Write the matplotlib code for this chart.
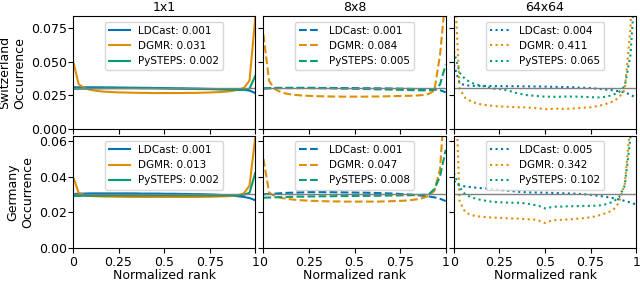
import numpy as np
import matplotlib.pyplot as plt

# rank histogram bins (33 bins -> 32 ensemble members)
n_bins = 33
ranks = np.linspace(0, 1, n_bins)

scales = ['1x1', '8x8', '64x64']
regions = ['Switzerland', 'Germany']
models = ['LDCast', 'DGMR', 'PySTEPS']

# ---- Switzerland ----
ch_ldcast_1 = [0.031, 0.031, 0.031, 0.031, 0.031, 0.031, 0.0309, 0.0309, 0.0308, 0.0308, 0.0307,
               0.0307, 0.0306, 0.0306, 0.0305, 0.0305, 0.0304, 0.0303, 0.0302, 0.0302, 0.0301, 0.0300,
               0.0300, 0.0299, 0.0298, 0.0297, 0.0296, 0.0295, 0.0294, 0.0293, 0.0291, 0.0285, 0.0267]
ch_dgmr_1 = [0.051, 0.0334, 0.0304, 0.0292, 0.0284, 0.0279, 0.0276, 0.0274, 0.0272, 0.0271, 0.0270,
             0.0269, 0.0268, 0.0268, 0.0267, 0.0267, 0.0267, 0.0267, 0.0267, 0.0267, 0.0268, 0.0268,
             0.0269, 0.0270, 0.0271, 0.0273, 0.0275, 0.0278, 0.0283, 0.0292, 0.0305, 0.036, 0.083]
ch_pysteps_1 = [0.0298, 0.0299, 0.030, 0.0301, 0.0302, 0.0302, 0.0303, 0.0303, 0.0303, 0.0303, 0.0303,
                0.0303, 0.0302, 0.0302, 0.0302, 0.0301, 0.0301, 0.0300, 0.0300, 0.0299, 0.0299, 0.0298,
                0.0297, 0.0297, 0.0296, 0.0295, 0.0294, 0.0293, 0.0292, 0.0291, 0.0290, 0.0300, 0.0395]

ch_ldcast_8 = [0.0302, 0.0304, 0.0305, 0.0306, 0.0306, 0.0306, 0.0306, 0.0306, 0.0306, 0.0306, 0.0305,
               0.0305, 0.0305, 0.0305, 0.0304, 0.0304, 0.0304, 0.0303, 0.0303, 0.0303, 0.0302, 0.0302,
               0.0301, 0.0301, 0.0300, 0.0299, 0.0298, 0.0297, 0.0296, 0.0295, 0.0293, 0.0289, 0.0272]
ch_dgmr_8 = [0.0705, 0.0358, 0.0297, 0.0275, 0.0263, 0.0256, 0.0251, 0.0248, 0.0246, 0.0244, 0.0243,
             0.0242, 0.0241, 0.0241, 0.0240, 0.0240, 0.0240, 0.0240, 0.0240, 0.0241, 0.0241, 0.0242,
             0.0243, 0.0244, 0.0245, 0.0246, 0.0247, 0.0249, 0.0252, 0.0260, 0.0284, 0.055, 0.10]
ch_pysteps_8 = [0.0300, 0.0302, 0.0303, 0.0304, 0.0304, 0.0304, 0.0304, 0.0304, 0.0304, 0.0303, 0.0303,
                0.0302, 0.0302, 0.0301, 0.0300, 0.0300, 0.0299, 0.0298, 0.0297, 0.0296, 0.0295, 0.0294,
                0.0293, 0.0292, 0.0291, 0.0290, 0.0289, 0.0288, 0.0287, 0.0287, 0.0292, 0.0330, 0.0480]

ch_ldcast_64 = [0.048, 0.034, 0.0325, 0.0322, 0.032, 0.032, 0.032, 0.0319, 0.0319, 0.0318, 0.0318,
                0.0318, 0.0317, 0.0317, 0.0316, 0.0316, 0.0315, 0.0314, 0.0313, 0.0312, 0.0311, 0.031,
                0.0308, 0.0306, 0.0304, 0.0300, 0.0296, 0.0292, 0.0287, 0.0280, 0.0272, 0.0255, 0.023]
ch_dgmr_64 = [0.12, 0.030, 0.023, 0.0205, 0.019, 0.018, 0.0175, 0.017, 0.0167, 0.0165, 0.0163,
              0.0161, 0.016, 0.0158, 0.0156, 0.0152, 0.0145, 0.0148, 0.015, 0.0148, 0.015, 0.0152,
              0.0155, 0.0158, 0.016, 0.0168, 0.0177, 0.019, 0.0205, 0.0235, 0.029, 0.075, 0.2]
ch_pysteps_64 = [0.058, 0.042, 0.037, 0.0345, 0.033, 0.032, 0.031, 0.030, 0.0297, 0.029, 0.028,
                 0.0267, 0.0258, 0.025, 0.0247, 0.0243, 0.024, 0.024, 0.0238, 0.024, 0.0241, 0.024,
                 0.024, 0.0238, 0.0236, 0.0234, 0.0235, 0.0242, 0.0255, 0.0275, 0.032, 0.055, 0.12]

# ---- Germany ----
de_ldcast_1 = [0.0302, 0.0304, 0.0305, 0.0306, 0.0306, 0.0306, 0.0306, 0.0306, 0.0306, 0.0306, 0.0306,
               0.0306, 0.0305, 0.0305, 0.0305, 0.0305, 0.0304, 0.0304, 0.0304, 0.0303, 0.0303, 0.0302,
               0.0302, 0.0301, 0.0300, 0.0299, 0.0297, 0.0295, 0.0293, 0.0290, 0.0286, 0.0280, 0.0268]
de_dgmr_1 = [0.040, 0.031, 0.0296, 0.0292, 0.029, 0.0289, 0.0288, 0.0288, 0.0287, 0.0287, 0.0286,
             0.0286, 0.0286, 0.0286, 0.0286, 0.0286, 0.0286, 0.0286, 0.0286, 0.0286, 0.0286, 0.0286,
             0.0286, 0.0287, 0.0287, 0.0288, 0.0289, 0.029, 0.0292, 0.0296, 0.0306, 0.035, 0.062]
de_pysteps_1 = [0.0292, 0.0292, 0.0293, 0.0293, 0.0294, 0.0294, 0.0294, 0.0295, 0.0295, 0.0295, 0.0295,
                0.0295, 0.0295, 0.0295, 0.0295, 0.0295, 0.0295, 0.0295, 0.0295, 0.0295, 0.0295, 0.0295,
                0.0295, 0.0295, 0.0295, 0.0295, 0.0295, 0.0295, 0.0295, 0.0296, 0.0298, 0.031, 0.042]

de_ldcast_8 = [0.0301, 0.0303, 0.0305, 0.0307, 0.0309, 0.031, 0.0311, 0.0312, 0.0313, 0.0313, 0.0313,
               0.0313, 0.0313, 0.0312, 0.0312, 0.0311, 0.0311, 0.031, 0.031, 0.0309, 0.0308, 0.0307,
               0.0306, 0.0305, 0.0303, 0.0301, 0.0299, 0.0296, 0.0293, 0.0289, 0.0284, 0.0276, 0.0263]
de_dgmr_8 = [0.050, 0.031, 0.0291, 0.0282, 0.0276, 0.0272, 0.0269, 0.0267, 0.0265, 0.0264, 0.0263,
             0.0262, 0.0261, 0.0261, 0.026, 0.026, 0.026, 0.026, 0.026, 0.026, 0.026, 0.0261,
             0.0262, 0.0263, 0.0264, 0.0266, 0.0269, 0.0273, 0.028, 0.0292, 0.032, 0.044, 0.09]
de_pysteps_8 = [0.0282, 0.0283, 0.0284, 0.0285, 0.0286, 0.0287, 0.0288, 0.0288, 0.0289, 0.0289, 0.029,
                0.029, 0.029, 0.0291, 0.0291, 0.0291, 0.0292, 0.0292, 0.0292, 0.0293, 0.0293, 0.0293,
                0.0294, 0.0294, 0.0295, 0.0295, 0.0296, 0.0297, 0.0298, 0.030, 0.033, 0.040, 0.055]

de_ldcast_64 = [0.0376, 0.035, 0.0345, 0.0341, 0.0338, 0.0335, 0.0333, 0.033, 0.0326, 0.0323, 0.032,
                0.0316, 0.0314, 0.0312, 0.0311, 0.0311, 0.031, 0.0309, 0.0308, 0.0307, 0.0306, 0.0305,
                0.0303, 0.0301, 0.0298, 0.0294, 0.029, 0.0285, 0.0279, 0.0272, 0.0264, 0.0255, 0.0244]
de_dgmr_64 = [0.12, 0.026, 0.020, 0.0185, 0.0178, 0.0175, 0.0172, 0.017, 0.0169, 0.0167, 0.0165,
              0.0165, 0.0163, 0.0161, 0.016, 0.0152, 0.014, 0.0152, 0.0157, 0.0158, 0.016, 0.0162,
              0.0165, 0.0168, 0.0172, 0.0178, 0.0188, 0.0198, 0.0215, 0.0255, 0.036, 0.07, 0.15]
de_pysteps_64 = [0.042, 0.034, 0.030, 0.0285, 0.0275, 0.0268, 0.0262, 0.0258, 0.0256, 0.0255, 0.0254,
                 0.0254, 0.0252, 0.0248, 0.0242, 0.0235, 0.0222, 0.0228, 0.0232, 0.0232, 0.0234, 0.0234,
                 0.0235, 0.0236, 0.0236, 0.0237, 0.024, 0.0248, 0.026, 0.0285, 0.035, 0.062, 0.12]

# reliability scores shown in legends
ch_scores = [[0.001, 0.031, 0.002], [0.001, 0.084, 0.005], [0.004, 0.411, 0.065]]
de_scores = [[0.001, 0.013, 0.002], [0.001, 0.047, 0.008], [0.005, 0.342, 0.102]]

curves = {
    'Switzerland': [[ch_ldcast_1, ch_dgmr_1, ch_pysteps_1],
                    [ch_ldcast_8, ch_dgmr_8, ch_pysteps_8],
                    [ch_ldcast_64, ch_dgmr_64, ch_pysteps_64]],
    'Germany': [[de_ldcast_1, de_dgmr_1, de_pysteps_1],
                [de_ldcast_8, de_dgmr_8, de_pysteps_8],
                [de_ldcast_64, de_dgmr_64, de_pysteps_64]],
}
scores = {'Switzerland': ch_scores, 'Germany': de_scores}

colors = ['#0173b2', '#de8f05', '#029e73']
styles = ['-', '--', ':']
ylims = {'Switzerland': 0.084, 'Germany': 0.063}

fig, axes = plt.subplots(2, 3, figsize=(6.4, 2.84), dpi=100, sharex=True, sharey='row')
fig.subplots_adjust(left=0.114, right=0.994, top=0.942, bottom=0.127, wspace=0.045, hspace=0.062)

for r, region in enumerate(regions):
    for c, scale in enumerate(scales):
        ax = axes[r, c]
        for m, model in enumerate(models):
            ax.plot(ranks, curves[region][c][m], color=colors[m], ls=styles[c], lw=1.5,
                    label=f'{model}: {scores[region][c][m]:.3f}')
        ax.axhline(1 / n_bins, color='gray', lw=1)
        ax.set_xlim(0, 1)
        ax.set_ylim(0, ylims[region])
        ax.legend(loc='upper center', fontsize=7.5)
        ax.tick_params(labelsize=9, length=3.5)
        ax.tick_params(axis='x', pad=2)
        ax.tick_params(axis='y', pad=1)
        if r == 0:
            ax.set_title(scale, fontsize=9, pad=4)
        if r == 1:
            ax.set_xlabel('Normalized rank', fontsize=9, labelpad=0.5)
            ax.set_xticks([0, 0.25, 0.5, 0.75, 1])
            ax.set_xticklabels(['0', '0.25', '0.5', '0.75', '1'])
    axes[r, 0].set_ylabel(f'{region}\nOccurrence', fontsize=9, labelpad=3)

axes[0, 0].set_yticks([0, 0.025, 0.05, 0.075])
axes[1, 0].set_yticks([0, 0.02, 0.04, 0.06])

fig.savefig('out.png')
